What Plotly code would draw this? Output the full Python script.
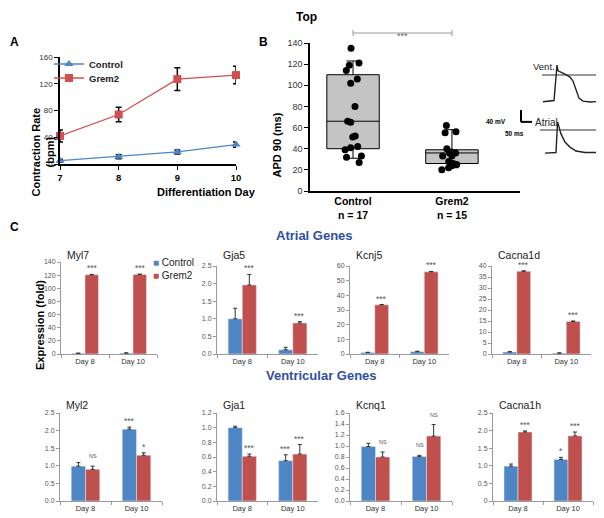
import plotly.graph_objects as go

# the page shows the figure 8 px in from the top-left corner,
# so the figure is made 8 px smaller and every position is given in
# reference pixels and converted with X() / Y()
OFF = 8
FW, FH = 604 - OFF, 518 - OFF
FONT = "Arial, Liberation Sans, sans-serif"
BLUE = "#4d85c5"
RED = "#c0504d"

# --------------------------
# Panel A: contraction rate
# --------------------------
days_a = [7, 8, 9, 10]
ctrl_rate = [5, 11, 18, 29]
ctrl_rate_err = [2, 3, 3, 4]
grem_rate = [42, 74, 127, 133]
grem_rate_err = [9, 11, 17, 13]

# --------------------------
# Panel B: APD 90
# --------------------------
apd_groups = ["Control", "Grem2"]
apd_ctrl = [135, 121, 119, 114, 106, 102, 80, 66, 65, 52, 51, 42, 41, 39, 33, 32, 27]
apd_grem = [62, 56, 55, 40, 37, 36, 36, 33, 33, 28, 26, 25, 24, 22, 20]
box_q1 = [40, 26]
box_median = [66, 36]
box_q3 = [110, 39]
box_low = [31, 22]
box_high = [123, 58]

# action potential traces (ms, mV)
vent_t = [13.5, 63, 76.5, 81, 112.5, 135, 148.5, 162, 175.5, 193.5, 225, 270]
vent_mv = [-89, -85, 33, 14, 3, -7, -20, -50, -77, -87, -90, -88]
atrial_t = [22.5, 72, 79, 85.5, 94.5, 112.5, 135, 162, 202.5, 270]
atrial_mv = [-77, -75, 27, 7, -13, -40, -57, -70, -75, -75]

# --------------------------
# Panel C: gene expression (fold)
# --------------------------
days = ["Day 8", "Day 10"]
genes = ["Myl7", "Gja5", "Kcnj5", "Cacna1d", "Myl2", "Gja1", "Kcnq1", "Cacna1h"]
ctrl_expr = [[1.0, 1.4], [1.0, 0.12], [1.0, 1.6], [0.9, 0.4],
             [0.99, 2.04], [1.0, 0.55], [0.99, 0.81], [0.99, 1.18]]
ctrl_err = [[0.3, 0.3], [0.30, 0.07], [0.2, 0.3], [0.2, 0.1],
            [0.10, 0.06], [0.02, 0.08], [0.06, 0.02], [0.06, 0.06]]
grem_expr = [[120.5, 121.0], [1.96, 0.88], [33.5, 56.0], [37.6, 14.8],
             [0.90, 1.30], [0.61, 0.64], [0.80, 1.18], [1.96, 1.85]]
grem_err = [[0.6, 0.6], [0.30, 0.04], [0.2, 0.3], [0.2, 0.2],
            [0.09, 0.07], [0.03, 0.13], [0.09, 0.21], [0.03, 0.11]]
sig_ctrl = [["", ""], ["", ""], ["", ""], ["", ""],
            ["", "***"], ["", "***"], ["", "NS"], ["", "*"]]
sig_grem = [["***", "***"], ["***", "***"], ["***", "***"], ["***", "***"],
            ["NS", "*"], ["***", "***"], ["NS", "NS"], ["***", "***"]]
y_max = [140, 2.5, 60, 40, 2.5, 1.2, 1.6, 2.5]
y_step = [20, 0.5, 10, 5, 0.5, 0.2, 0.2, 0.5]


def X(px):
    return (px - OFF) / FW


def Y(py):
    return 1 - (py - OFF) / FH


def dx(a, b):
    return [X(a), X(b)]


def dy(top, bottom):
    return [Y(bottom), Y(top)]


def leg(x, y, size, bold=False):
    return dict(x=X(x), y=Y(y), xanchor="left", yanchor="middle",
                bgcolor="rgba(0,0,0,0)", itemwidth=30, tracegroupgap=0,
                font=dict(size=size, color="#222",
                          weight="bold" if bold else "normal"))


fig = go.Figure()

# ---- Panel A
fig.add_trace(go.Scatter(
    x=days_a, y=ctrl_rate, name="Control", mode="lines+markers",
    line=dict(color=BLUE, width=1.3),
    marker=dict(symbol="triangle-up", size=8, color=BLUE),
    error_y=dict(type="data", array=ctrl_rate_err, color="black", thickness=1.5, width=3),
    cliponaxis=False, legend="legend"))
fig.add_trace(go.Scatter(
    x=days_a, y=grem_rate, name="Grem2", mode="lines+markers",
    line=dict(color="#d24f4f", width=1.3),
    marker=dict(symbol="square", size=8, color="#d24f4f"),
    error_y=dict(type="data", array=grem_rate_err, color="black", thickness=1.5, width=3),
    cliponaxis=False, legend="legend3"))

# ---- Panel B
fig.add_trace(go.Box(
    x=apd_groups, q1=box_q1, median=box_median, q3=box_q3,
    lowerfence=box_low, upperfence=box_high,
    fillcolor="#c4c4c4", line=dict(color="black", width=1),
    width=0.53, whiskerwidth=0.25, boxpoints=False,
    xaxis="x2", yaxis="y2", showlegend=False))
fig.add_trace(go.Box(
    x=[apd_groups[0]] * len(apd_ctrl) + [apd_groups[1]] * len(apd_grem),
    y=apd_ctrl + apd_grem,
    boxpoints="all", jitter=0.45, pointpos=0, width=0.53,
    fillcolor="rgba(0,0,0,0)", line=dict(color="rgba(0,0,0,0)", width=0),
    marker=dict(color="black", size=7),
    xaxis="x2", yaxis="y2", showlegend=False))

fig.add_trace(go.Scatter(x=vent_t, y=vent_mv, mode="lines",
                         line=dict(color="#222", width=1.4),
                         xaxis="x3", yaxis="y3", showlegend=False))
fig.add_trace(go.Scatter(x=atrial_t, y=atrial_mv, mode="lines",
                         line=dict(color="#222", width=1.4),
                         xaxis="x4", yaxis="y4", showlegend=False))

# ---- Panel C
gene_dom = [((61, 157), (262, 354)), ((217, 318), (266, 354)),
            ((350, 449), (266, 354)), ((492, 591), (266, 354)),
            ((60, 162), (413, 501)), ((217, 318), (413, 501)),
            ((350, 452), (413, 501)), ((493, 593), (413, 501))]

annotations = []
shapes = []
for i, g in enumerate(genes):
    n = i + 5
    xa, ya = "x%d" % n, "y%d" % n
    fig.add_trace(go.Bar(
        x=days, y=ctrl_expr[i], name="Control", marker_color=BLUE,
        error_y=dict(type="data", symmetric=False, array=ctrl_err[i],
                     arrayminus=[0, 0], color="#333", thickness=1, width=2),
        xaxis=xa, yaxis=ya, showlegend=False))
    fig.add_trace(go.Bar(
        x=days, y=grem_expr[i], name="Grem2", marker_color=RED,
        error_y=dict(type="data", symmetric=False, array=grem_err[i],
                     arrayminus=[0, 0], color="#333", thickness=1, width=2),
        xaxis=xa, yaxis=ya, showlegend=False))
    (x0, x1), (t0, b0) = gene_dom[i]
    vals = [k * y_step[i] for k in range(int(round(y_max[i] / y_step[i])) + 1)]
    if y_max[i] >= 5:
        txt = ["%g" % v for v in vals]
    elif g == "Cacna1h":
        txt = ["0" if v == 0 else "%.1f" % v for v in vals]
    else:
        txt = ["%.1f" % v for v in vals]
    fig.layout["xaxis%d" % n] = dict(
        domain=dx(x0, x1), anchor=ya, type="category", tickson="boundaries",
        ticks="outside", ticklen=3, tickcolor="#999", showline=True,
        linecolor="#999", linewidth=1, tickfont=dict(size=7.5, color="#333"),
        showgrid=False, automargin=False)
    fig.layout["yaxis%d" % n] = dict(
        domain=dy(t0, b0), anchor=xa, range=[0, y_max[i]], tickvals=vals,
        ticktext=txt, ticks="outside", ticklen=3, tickcolor="#999",
        showline=True, linecolor="#999", linewidth=1,
        tickfont=dict(size=7, color="#555"), showgrid=False, zeroline=False,
        automargin=False)
    annotations.append(dict(
        text=g, x=X(x0 + 4), y=Y(255 if i < 4 else 405), xref="paper", yref="paper",
        xanchor="left", yanchor="middle", showarrow=False,
        font=dict(size=10.5, color="#222")))
    for j, d in enumerate(days):
        for lab, val, err, sh in ((sig_ctrl[i][j], ctrl_expr[i][j], ctrl_err[i][j], -7),
                                  (sig_grem[i][j], grem_expr[i][j], grem_err[i][j], 7)):
            if lab:
                annotations.append(dict(
                    text=lab, x=d, y=val + err, xref=xa, yref=ya, xshift=sh,
                    yshift=5 if lab == "NS" else -1, xanchor="center",
                    yanchor="bottom", showarrow=False,
                    font=dict(size=5.5 if lab == "NS" else 8.5, color="#555")))

# ---- shapes for AP reference lines, scale bar and bracket
shapes += [
    dict(type="line", xref="x3", yref="y3", x0=9, x1=261, y0=0, y1=0,
         line=dict(color="#333", width=1)),
    dict(type="line", xref="x4", yref="y4", x0=0, x1=256, y0=0, y1=0,
         line=dict(color="#333", width=1)),
    dict(type="line", xref="x4", yref="y4", x0=-85.5, x1=-85.5, y0=27, y1=67,
         line=dict(color="black", width=2)),
    dict(type="line", xref="x4", yref="y4", x0=-85.5, x1=-35.5, y0=27, y1=27,
         line=dict(color="black", width=2)),
    dict(type="line", xref="x2", yref="paper", x0=apd_groups[0], x1=apd_groups[1],
         y0=Y(33), y1=Y(33), line=dict(color="#999", width=1)),
    dict(type="line", xref="x2", yref="paper", x0=apd_groups[0], x1=apd_groups[0],
         y0=Y(30), y1=Y(36), line=dict(color="#999", width=1)),
    dict(type="line", xref="x2", yref="paper", x0=apd_groups[1], x1=apd_groups[1],
         y0=Y(30), y1=Y(36), line=dict(color="#999", width=1)),
]


def ann(text, x, y, size, bold=False, color="black", **kw):
    d = dict(text=text, x=X(x), y=Y(y), xref="paper", yref="paper",
             showarrow=False, font=dict(size=size, color=color, family=FONT,
                                         weight="bold" if bold else "normal"))
    d.update(kw)
    return d


annotations += [
    ann("Top", 306, 8, 12, True, yanchor="top"),
    ann("A", 8, 33, 12, True, xanchor="left"),
    ann("B", 263, 33, 12, True),
    ann("C", 8, 227, 12, True, xanchor="left"),
    ann("***", 402, 29, 9, color="#666"),
    ann("Differentiation Day", 155, 192, 11, True),
    ann("Contraction Rate<br>(bpm)", 27, 106, 11, True, textangle=-90),
    ann("APD 90 (ms)", 277, 111, 11, True, textangle=-90),
    ann("Vent.", 557, 59, 9.5, color="#222"),
    ann("Atrial", 560, 115, 10, color="#222"),
    ann("40 mV", 508, 116, 6.5, True),
    ann("50 ms", 526, 128, 6.5, True),
    ann("Atrial Genes", 314, 236, 13, True, color="#2f4fa2"),
    ann("Ventricular Genes", 321, 385, 13, True, color="#2f4fa2"),
    ann("Expression (fold)", 32, 372, 11, True, textangle=-90),
    ann("<span style='color:%s'>■</span> Control" % BLUE, 151, 262, 10,
        color="#222", xanchor="left"),
    ann("<span style='color:%s'>■</span> Grem2" % RED, 151, 275, 10,
        color="#222", xanchor="left"),
]

fig.update_layout(
    width=FW, height=FH, margin=dict(l=0, r=0, t=0, b=0, autoexpand=False),
    paper_bgcolor="white", plot_bgcolor="white",
    font=dict(family=FONT, color="black"),
    barmode="group", bargap=0.44, bargroupgap=0,
    xaxis=dict(domain=dx(60, 236), range=[7, 10], tickvals=days_a,
               ticks="outside", ticklen=4, tickcolor="black", showline=True,
               linecolor="black", linewidth=1.5, showgrid=False, zeroline=False,
               tickfont=dict(size=9.5, weight="bold"), automargin=False),
    yaxis=dict(domain=dy(57, 164), range=[0, 160], dtick=40,
               ticks="outside", ticklen=4, tickcolor="black", showline=True,
               linecolor="black", linewidth=1.5, showgrid=False, zeroline=False,
               tickfont=dict(size=8, color="#333"), automargin=False),
    xaxis2=dict(domain=dx(310, 520), anchor="y2", type="category",
                range=[-0.435, 1.688], tickvals=apd_groups,
                ticktext=["%s<br>n = %d" % (apd_groups[0], len(apd_ctrl)),
                          "%s<br>n = %d" % (apd_groups[1], len(apd_grem))],
                showline=True, linecolor="black", linewidth=1.5, ticks="",
                tickfont=dict(size=10.5, weight="bold"), showgrid=False,
                automargin=False),
    yaxis2=dict(domain=dy(43, 191), anchor="x2", range=[0, 140], dtick=20,
                ticks="outside", ticklen=4, tickcolor="black", showline=True,
                linecolor="black", linewidth=1.5, showgrid=False, zeroline=False,
                tickfont=dict(size=9, color="#333"), automargin=False),
    xaxis3=dict(domain=dx(495, 604), anchor="y3", range=[-202.5, 288],
                visible=False, automargin=False),
    yaxis3=dict(domain=dy(55, 106), anchor="x3", range=[-103.3, 66.7],
                visible=False, automargin=False),
    xaxis4=dict(domain=dx(495, 604), anchor="y4", range=[-202.5, 288],
                visible=False, automargin=False),
    yaxis4=dict(domain=dy(108, 157), anchor="x4", range=[-90, 73.3],
                visible=False, automargin=False),
    legend=leg(49, 64, 9.5, True),
    legend3=leg(49, 78, 9.5, True),
    boxmode="overlay",
    annotations=annotations, shapes=shapes,
)

fig.write_html("out.html")
